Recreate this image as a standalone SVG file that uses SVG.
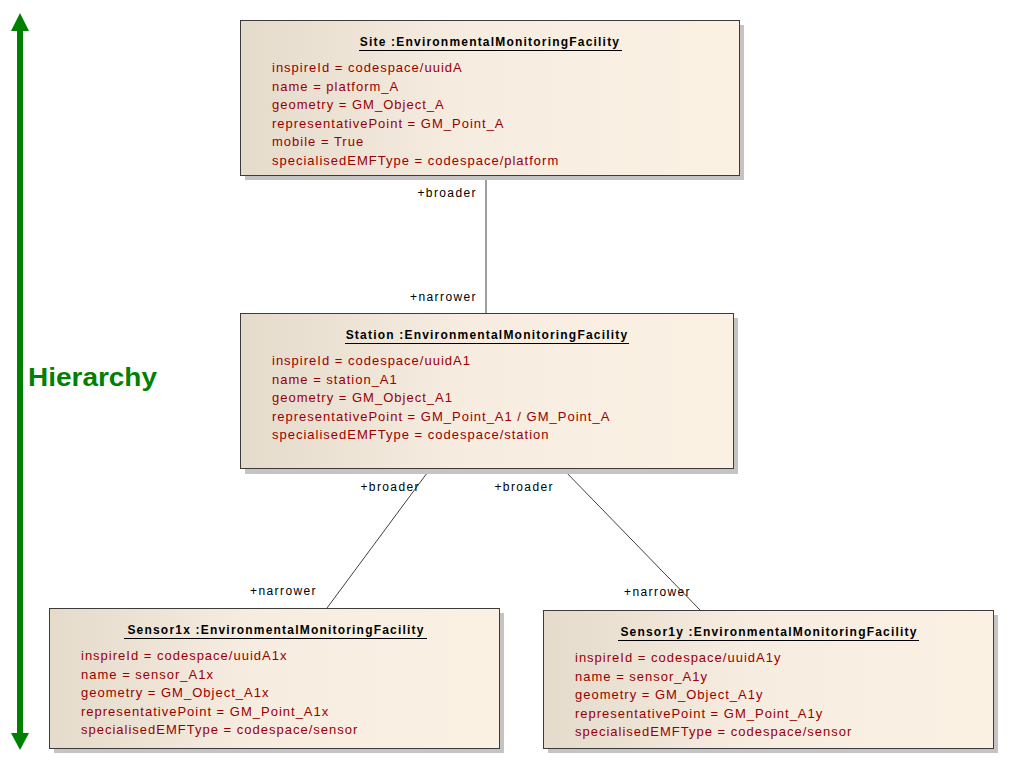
<svg xmlns="http://www.w3.org/2000/svg" width="1013" height="765" viewBox="0 0 1013 765">
<style>
.box{fill:url(#g);stroke:#3c3c3c;stroke-width:1}
.shadow{fill:#c4c4c4}
.title{font-family:"Liberation Sans",Arial,sans-serif;font-size:12px;font-weight:bold;fill:#000;text-anchor:middle;letter-spacing:1.2px}
.ul{stroke:#000;stroke-width:1}
.attr{font-family:"Liberation Sans",Arial,sans-serif;font-size:13px;fill:#990000;letter-spacing:1px}
.lbl{font-family:"Liberation Sans",Arial,sans-serif;font-size:12px;fill:#000;text-anchor:end;letter-spacing:1.4px}
.conn{stroke:#404040;stroke-width:1;fill:none}
</style>
<defs>
<linearGradient id="g" x1="0" y1="0" x2="1" y2="0">
<stop offset="0" stop-color="#e4dbcb"/>
<stop offset="0.45" stop-color="#f6ece0"/>
<stop offset="1" stop-color="#fbf1e3"/>
</linearGradient>
</defs>
<rect width="1013" height="765" fill="#fff"/>

<g id="hierarchy">
<line x1="20" y1="30" x2="20" y2="734" stroke="#008000" stroke-width="6"/>
<polygon points="20,13 29,31 11,31" fill="#008000"/>
<polygon points="20,750 29,733 11,733" fill="#008000"/>
<text x="28" y="386" font-family="'Liberation Sans',Arial,sans-serif" font-size="25" font-weight="bold" fill="#008000" textLength="129" lengthAdjust="spacingAndGlyphs">Hierarchy</text>
</g>

<g id="connectors">
<line class="conn" x1="486" y1="176" x2="486" y2="314"/>
<line class="conn" x1="430" y1="469" x2="327" y2="608"/>
<line class="conn" x1="563" y1="469" x2="700" y2="610"/>
<text class="lbl" x="477" y="197">+broader</text>
<text class="lbl" x="477" y="301">+narrower</text>
<text class="lbl" x="420" y="491">+broader</text>
<text class="lbl" x="554" y="491">+broader</text>
<text class="lbl" x="317" y="595">+narrower</text>
<text class="lbl" x="691" y="596">+narrower</text>
</g>

<g id="site">
<rect class="shadow" x="245" y="25" width="499" height="155"/>
<rect class="box" x="240.5" y="20.5" width="499" height="155"/>
<text class="title" x="490" y="46">Site :EnvironmentalMonitoringFacility</text>
<line class="ul" x1="359" y1="50.5" x2="622" y2="50.5"/>
<text class="attr" x="272" y="72">inspireId = codespace/uuidA</text>
<text class="attr" x="272" y="90.5">name = platform_A</text>
<text class="attr" x="272" y="109">geometry = GM_Object_A</text>
<text class="attr" x="272" y="127.5">representativePoint = GM_Point_A</text>
<text class="attr" x="272" y="146">mobile = True</text>
<text class="attr" x="272" y="164.5">specialisedEMFType = codespace/platform</text>
</g>

<g id="station">
<rect class="shadow" x="245" y="318" width="493" height="156"/>
<rect class="box" x="240.5" y="313.5" width="493" height="155"/>
<text class="title" x="487" y="339">Station :EnvironmentalMonitoringFacility</text>
<line class="ul" x1="345" y1="343.5" x2="629" y2="343.5"/>
<text class="attr" x="272" y="365">inspireId = codespace/uuidA1</text>
<text class="attr" x="272" y="383.5">name = station_A1</text>
<text class="attr" x="272" y="402">geometry = GM_Object_A1</text>
<text class="attr" x="272" y="420.5">representativePoint = GM_Point_A1 / GM_Point_A</text>
<text class="attr" x="272" y="439">specialisedEMFType = codespace/station</text>
</g>

<g id="sensor1x">
<rect class="shadow" x="54" y="613" width="450" height="140"/>
<rect class="box" x="49.5" y="608.5" width="450" height="140"/>
<text class="title" x="276" y="634">Sensor1x :EnvironmentalMonitoringFacility</text>
<line class="ul" x1="124" y1="638.5" x2="427" y2="638.5"/>
<text class="attr" x="81" y="660">inspireId = codespace/uuidA1x</text>
<text class="attr" x="81" y="678.5">name = sensor_A1x</text>
<text class="attr" x="81" y="697">geometry = GM_Object_A1x</text>
<text class="attr" x="81" y="715.5">representativePoint = GM_Point_A1x</text>
<text class="attr" x="81" y="734">specialisedEMFType = codespace/sensor</text>
</g>

<g id="sensor1y">
<rect class="shadow" x="548" y="615" width="450" height="138"/>
<rect class="box" x="543.5" y="610.5" width="450" height="138"/>
<text class="title" x="769" y="636">Sensor1y :EnvironmentalMonitoringFacility</text>
<line class="ul" x1="618" y1="640.5" x2="919" y2="640.5"/>
<text class="attr" x="575" y="662">inspireId = codespace/uuidA1y</text>
<text class="attr" x="575" y="680.5">name = sensor_A1y</text>
<text class="attr" x="575" y="699">geometry = GM_Object_A1y</text>
<text class="attr" x="575" y="717.5">representativePoint = GM_Point_A1y</text>
<text class="attr" x="575" y="736">specialisedEMFType = codespace/sensor</text>
</g>
</svg>
